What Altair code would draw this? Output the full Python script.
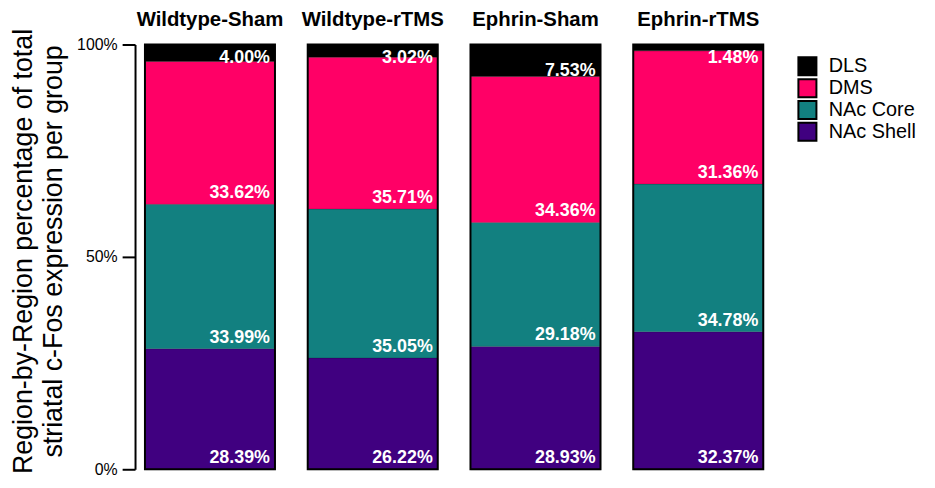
import altair as alt
import pandas as pd

groups = ["Wildtype-Sham", "Wildtype-rTMS", "Ephrin-Sham", "Ephrin-rTMS"]
regions = ["NAc Shell", "NAc Core", "DMS", "DLS"]  # bottom to top of each stack
nac_shell = [28.39, 26.22, 28.93, 32.37]
nac_core = [33.99, 35.05, 29.18, 34.78]
dms = [33.62, 35.71, 34.36, 31.36]
dls = [4.00, 3.02, 7.53, 1.48]
legend_order = ["DLS", "DMS", "NAc Core", "NAc Shell"]
legend_colors = ["#000000", "#FF0066", "#128080", "#400080"]
y_ticks = [0, 50, 100]
y_title = ["Region-by-Region percentage of total", "striatal c-Fos expression per group"]

series = [nac_shell, nac_core, dms, dls]
rows = []
for gi, g in enumerate(groups):
    for ri, r in enumerate(regions):
        rows.append({"group": g, "region": r, "rank": ri, "value": series[ri][gi]})
df = pd.DataFrame(rows)

FONT = "Liberation Sans"
H = 428
yscale = alt.Scale(domain=[0, 100], nice=False, zero=True)
xscale = alt.Scale(paddingInner=0, paddingOuter=0)
color_scale = alt.Scale(domain=legend_order, range=legend_colors)
yaxis = alt.Axis(
    values=y_ticks, labelExpr="datum.value + '%'", title=y_title,
    titleFontSize=27, titleFontWeight="normal", titleColor="black",
    titleLineHeight=30, titlePadding=9, titleFont=FONT, titleY=H / 2 - 6,
    labelFontSize=16, labelColor="black", labelPadding=5, labelFont=FONT,
    tickSize=13, tickWidth=2, tickColor="black",
    domainColor="black", domainWidth=2, offset=8, grid=False)

base = alt.Chart().transform_stack(
    stack="value", groupby=["group"], as_=["start", "end"],
    sort=[alt.SortField("rank", order="ascending")]
).transform_calculate(label="format(datum.value, '.2f') + '%'")

bars = base.mark_bar(stroke="#00000033", strokeWidth=0.8).encode(
    x=alt.X("group:N", axis=None, scale=xscale),
    y=alt.Y("start:Q", scale=yscale, axis=yaxis),
    y2="end:Q",
    color=alt.Color("region:N", scale=color_scale, legend=alt.Legend(
        title=None, orient="right", offset=21, padding=11,
        symbolType="square", symbolSize=330, symbolStrokeColor="black",
        symbolStrokeWidth=2, symbolOpacity=1, labelFontSize=20, labelColor="black",
        labelFont=FONT, rowPadding=0, clipHeight=22, labelOffset=11)),
)

outline = alt.Chart().transform_aggregate(
    total="sum(value)", groupby=["group"]
).mark_bar(fillOpacity=0, stroke="black", strokeWidth=2).encode(
    x=alt.X("group:N", axis=None, scale=xscale),
    y=alt.Y("total:Q", scale=yscale, axis=yaxis),
)

txt_props = dict(align="right", baseline="alphabetic", dx=-5, color="white",
                 fontWeight="bold", fontSize=18, font=FONT)

text_main = base.transform_filter("datum.region != 'DLS'").mark_text(
    dy=-6, **txt_props
).encode(
    x=alt.X("group:N", axis=None, scale=xscale, bandPosition=1),
    y=alt.Y("start:Q", scale=yscale, axis=yaxis),
    text="label:N",
)

text_top = base.transform_filter("datum.region == 'DLS'").transform_calculate(
    ly="min(datum.start, 95.3)"
).mark_text(dy=-1, **txt_props).encode(
    x=alt.X("group:N", axis=None, scale=xscale, bandPosition=1),
    y=alt.Y("ly:Q", scale=yscale, axis=yaxis),
    text="label:N",
)

layered = alt.layer(bars, outline, text_main, text_top, data=df).properties(
    width=131, height=H
)

chart = layered.facet(
    column=alt.Column("group:N", sort=groups, header=alt.Header(
        title=None, labelFontSize=20.5, labelFontWeight="bold", labelColor="black",
        labelFont=FONT, labelPadding=12.5)),
    spacing=29,
).resolve_scale(x="independent").properties(
    padding={"top": 0, "left": 2, "right": 0, "bottom": -2}
).configure_view(strokeWidth=0).configure(font=FONT)

chart.save("out.html", embed_options={"renderer": "svg", "actions": False})
